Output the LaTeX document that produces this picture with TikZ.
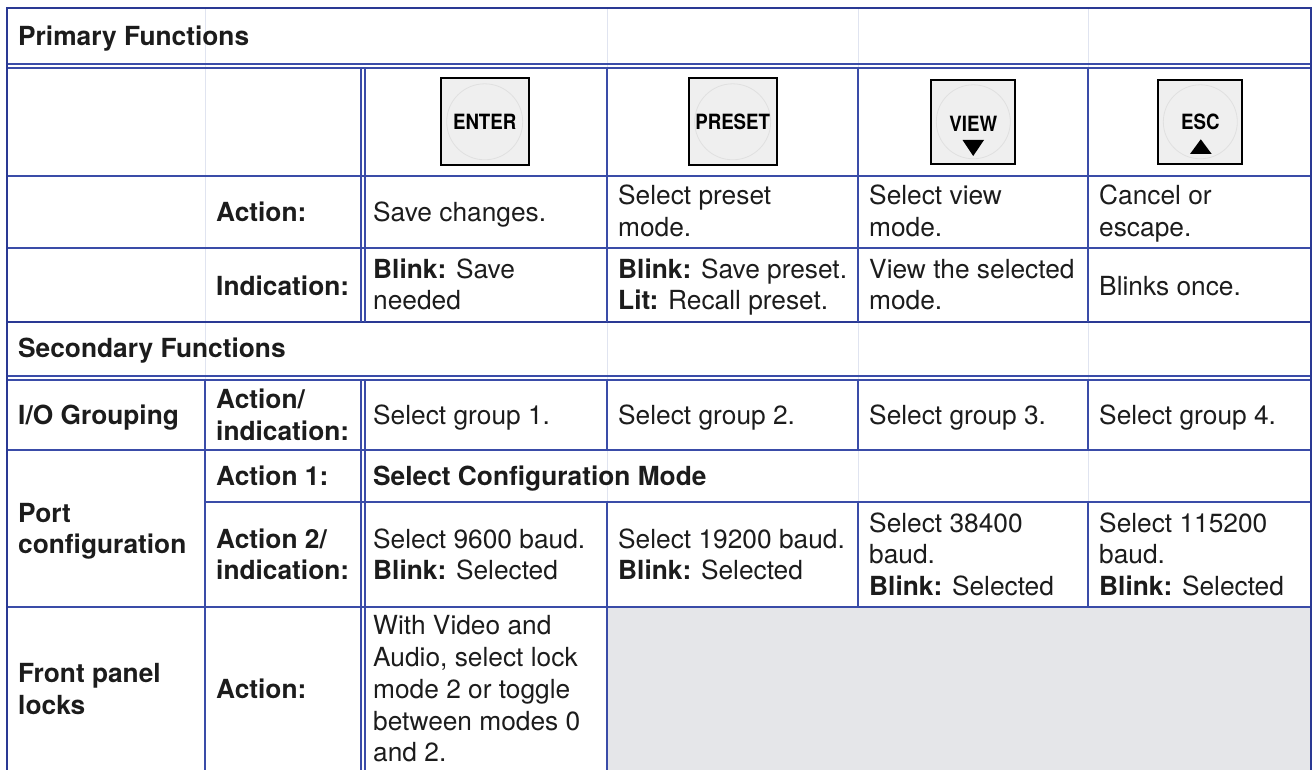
\documentclass[tikz,border=0pt]{standalone}
\usepackage{fontspec}
\setmainfont{TeX Gyre Heros}
\newcommand\cellfont{\fontsize{26.3}{31.8}\selectfont}
\newcommand\btnfont{\fontsize{21}{24}\selectfont\bfseries}
\definecolor{tblue}{RGB}{58,76,168}
\definecolor{tborder}{RGB}{42,57,148}
\definecolor{tfaint}{RGB}{224,228,240}
\definecolor{cellgray}{RGB}{229,230,233}
\definecolor{btngray}{RGB}{239,239,239}
\definecolor{btnring}{RGB}{224,224,224}
\definecolor{ink}{RGB}{28,28,28}
\begin{document}
\begin{tikzpicture}[x=1pt,y=-1pt,
  cell/.style={anchor=base west, inner sep=0pt, align=left, font=\cellfont, text=ink},
  hdr/.style={cell, font=\cellfont\bfseries},
  grid/.style={draw=tblue, line width=1.3pt},
  rulethick/.style={draw=tborder, line width=2.2pt},
  frame/.style={draw=tborder, line width=2.6pt},
  faint/.style={draw=tfaint, line width=0.9pt},
  btn/.style={draw=black, line width=2pt, fill=btngray, inner sep=0pt},
  btntext/.style={anchor=base, inner sep=0pt, font=\btnfont, text=black},
  btnring/.style={draw=btnring, line width=0.8pt},
  tri/.style={fill=black}
]
\useasboundingbox (0,0) rectangle (1312,770);
\clip (0,0) rectangle (1312,770);

% faint column guides
\foreach \x in {205,607,858,1088} \draw[faint] (\x,8) -- (\x,770);

% grey cell
\fill[cellgray] (607,607) rectangle (1311,775);

% horizontal rules
\foreach \y in {64,68,176,248,376,380,450,607} \draw[grid] (7,\y) -- (1311,\y);
\draw[rulethick] (7,322) -- (1311,322);
\draw[grid] (205,502) -- (1311,502);

% vertical rules
\foreach \x in {361,365} {
  \draw[grid] (\x,68) -- (\x,322);
  \draw[grid] (\x,380) -- (\x,775);
}
\draw[grid] (205,380) -- (205,775);
\draw[grid] (607,68) -- (607,322);
\draw[grid] (607,380) -- (607,450);
\draw[grid] (607,502) -- (607,775);
\foreach \x in {858,1088} {
  \draw[grid] (\x,68) -- (\x,322);
  \draw[grid] (\x,380) -- (\x,450);
  \draw[grid] (\x,502) -- (\x,607);
}

% outer frame
\draw[frame] (7,775) -- (7,8) -- (1311,8) -- (1311,775);

% buttons
\node[btn, minimum width=88pt, minimum height=87pt] (benter) at (484.7,121.8) {};
\draw[btnring] (benter.center) circle (38);
\node[btntext] (tenter) at (484.7,130) {\scalebox{0.89}[1]{ENTER}};

\node[btn, minimum width=88pt, minimum height=87pt] (bpreset) at (732.7,121.8) {};
\draw[btnring] (bpreset.center) circle (38);
\node[btntext] (tpreset) at (732.7,130) {\scalebox{0.89}[1]{PRESET}};

\node[btn, minimum width=84pt, minimum height=84pt] (bview) at (973.3,121.8) {};
\draw[btnring] (bview.center) circle (37);
\node[btntext] (tview) at (973.3,131.5) {\scalebox{0.89}[1]{VIEW}};
\fill[tri] (962.5,140) -- (984,140) -- (973.2,156) -- cycle;

\node[btn, minimum width=84pt, minimum height=84pt] (besc) at (1200.3,121.8) {};
\draw[btnring] (besc.center) circle (37);
\node[btntext] (tesc) at (1200.3,129.3) {\scalebox{0.89}[1]{ESC}};
\fill[tri] (1190,154) -- (1211.7,154) -- (1200.8,139.3) -- cycle;

% primary functions (multi-line nodes are placed by the baseline of their last line)
\node[hdr] (hprim) at (18,46) {Primary Functions};
\node[hdr] (lact) at (216,221.5) {Action:};
\node[cell] (a1) at (373,221.5) {Save changes.};
\node[cell] (a2) at (618,236.8) {Select preset\\mode.};
\node[cell] (a3) at (869,236.8) {Select view\\mode.};
\node[cell] (a4) at (1099,236.8) {Cancel or\\escape.};
\node[hdr] (lind) at (216,295) {Indication:};
\node[cell] (i1) at (373,309.8) {\textbf{Blink:} Save\\needed};
\node[cell] (i2) at (618,309.8) {\textbf{Blink:} Save preset.\\\textbf{Lit:} Recall preset.};
\node[cell] (i3) at (869,309.8) {View the selected\\mode.};
\node[cell] (i4) at (1099,295) {Blinks once.};

% secondary functions
\node[hdr] (hsec) at (18,357.5) {Secondary Functions};
\node[hdr] (lio) at (18,424) {I/O Grouping};
\node[hdr] (lioa) at (216,440.2) {Action/\\indication:};
\node[cell] (g1) at (373,424) {Select group 1.};
\node[cell] (g2) at (618,424) {Select group 2.};
\node[cell] (g3) at (869,424) {Select group 3.};
\node[cell] (g4) at (1099,424) {Select group 4.};

\node[hdr] (lport) at (18,553.8) {Port\\configuration};
\node[hdr] (la1) at (216,485.3) {Action 1:};
\node[hdr] (cfg) at (373,485.3) {Select Configuration Mode};
\node[hdr] (la2) at (216,579.8) {Action 2/\\indication:};
\node[cell] (b1) at (373,579.8) {Select 9600 baud.\\\textbf{Blink:} Selected};
\node[cell] (b2) at (618,579.8) {Select 19200 baud.\\\textbf{Blink:} Selected};
\node[cell] (b3) at (869,595.6) {Select 38400\\baud.\\\textbf{Blink:} Selected};
\node[cell] (b4) at (1099,595.6) {Select 115200\\baud.\\\textbf{Blink:} Selected};

\node[hdr] (lfront) at (18,714.3) {Front panel\\locks};
\node[hdr] (lfa) at (216,698.3) {Action:};
\node[cell] (f1) at (373,761.9) {With Video and\\Audio, select lock\\mode 2 or toggle\\between modes 0\\and 2.};
\end{tikzpicture}
\end{document}
